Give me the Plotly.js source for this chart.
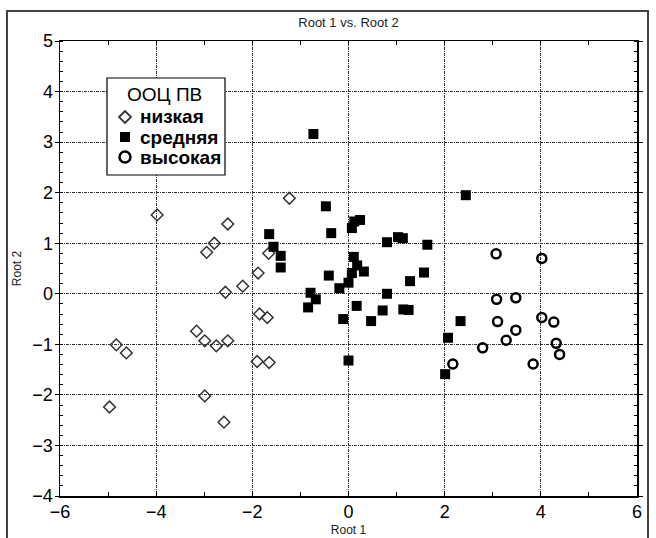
<!DOCTYPE html>
<html>
<head>
<meta charset="utf-8">
<script src="https://cdn.plot.ly/plotly-3.0.1.min.js"></script>
<style>html,body{margin:0;padding:0;background:#fff;}#chart{width:656px;height:538px;}</style>
</head>
<body>
<div id="chart"></div>
<script>
// Data
const seriesNames = ["низкая", "средняя", "высокая"];
const legendTitle = "ООЦ ПВ";
const chartTitle = "Root 1 vs. Root 2";
const xTitle = "Root 1";
const yTitle = "Root 2";

const lowX = [-1.23, -3.98, -2.51, -2.79, -2.95, -1.66, -1.88, -2.20, -2.56, -1.85, -1.69, -3.16, -2.99, -2.75, -2.51, -4.83, -4.62, -1.90, -1.65, -2.99, -4.97, -2.59];
const lowY = [1.89, 1.56, 1.38, 1.00, 0.82, 0.80, 0.41, 0.15, 0.03, -0.40, -0.47, -0.74, -0.93, -1.03, -0.93, -1.01, -1.17, -1.34, -1.36, -2.02, -2.24, -2.54];

const midX = [-0.73, 2.44, -0.47, 0.12, 0.24, 0.07, -1.65, -0.36, -1.56, -1.41, -1.41, 0.80, 1.03, 1.13, 1.64, 0.11, 0.18, 0.32, 0.07, 0.00, -0.41, -0.19, 1.57, 1.28, -0.79, -0.68, -0.84, 0.80, 0.17, 0.71, 1.14, 1.25, -0.11, 0.47, 2.33, 2.07, 0.00, 2.01];
const midY = [3.16, 1.95, 1.73, 1.43, 1.46, 1.30, 1.18, 1.20, 0.93, 0.75, 0.52, 1.02, 1.12, 1.10, 0.97, 0.73, 0.56, 0.44, 0.41, 0.22, 0.36, 0.11, 0.42, 0.25, 0.02, -0.11, -0.27, 0.00, -0.24, -0.33, -0.31, -0.32, -0.50, -0.54, -0.54, -0.87, -1.32, -1.59];

const highX = [3.07, 4.02, 3.08, 3.48, 3.10, 4.02, 4.27, 3.48, 3.28, 4.32, 4.39, 2.79, 3.84, 2.17];
const highY = [0.79, 0.70, -0.11, -0.08, -0.55, -0.47, -0.56, -0.72, -0.92, -0.98, -1.20, -1.07, -1.39, -1.39];

const xTicks = [-6, -4, -2, 0, 2, 4, 6];
const yTicks = [-4, -3, -2, -1, 0, 1, 2, 3, 4, 5];

const font = "Liberation Sans, Arial, sans-serif";

// layout geometry (pixels) -> paper coordinates
const W = 656, H = 538, ML = 60, MR = 19, MT = 41, MB = 42;
const PW = W - ML - MR, PH = H - MT - MB;
const px = v => (v - ML) / PW;
const py = v => 1 - (v - MT) / PH;

const traces = [
  {x: lowX, y: lowY, name: seriesNames[0], type: "scatter", mode: "markers", showlegend: false,
   marker: {symbol: "diamond-open", size: 9, color: "#333", line: {width: 1.5, color: "#333"}}},
  {x: midX, y: midY, name: seriesNames[1], type: "scatter", mode: "markers", showlegend: false,
   marker: {symbol: "square", size: 10, color: "#000", line: {width: 0}}},
  {x: highX, y: highY, name: seriesNames[2], type: "scatter", mode: "markers", showlegend: false,
   marker: {symbol: "circle-open", size: 9, color: "#000", line: {width: 2.5, color: "#000"}}}
];

const axisCommon = {
  showline: true, linecolor: "#000", linewidth: 1.5, mirror: "ticks",
  tickwidth: 1, tickcolor: "#000",
  showgrid: true, gridcolor: "#333", gridwidth: 1, griddash: "3px,1px,1px,1px",
  zeroline: false,
  tickfont: {family: font, size: 18, color: "#000"}
};
const fmt = v => v < 0 ? "\u2212" + Math.abs(v) : String(v);

// Legend drawn from the series names
const legX = 107, legY = 78, legR = 225, legB = 175;
const itemY = [117, 137, 157];
const markX = 125, textX = 138;

const shapes = [
  {type: "rect", xref: "paper", yref: "paper", x0: px(7), x1: px(648), y0: py(541), y1: py(11),
   line: {color: "#444", width: 2}, fillcolor: "rgba(0,0,0,0)", layer: "below"},
  {type: "rect", xref: "paper", yref: "paper", x0: px(legX), x1: px(legR), y0: py(legB), y1: py(legY),
   line: {color: "#000", width: 1.2}, fillcolor: "#fff", layer: "above"},
  {type: "path", xref: "paper", yref: "paper",
   path: `M ${px(markX - 6)},${py(itemY[0])} L ${px(markX)},${py(itemY[0] - 6)} L ${px(markX + 6)},${py(itemY[0])} L ${px(markX)},${py(itemY[0] + 6)} Z`,
   line: {color: "#333", width: 1.8}, fillcolor: "#fff", layer: "above"},
  {type: "rect", xref: "paper", yref: "paper", x0: px(markX - 5), x1: px(markX + 5), y0: py(itemY[1] + 5), y1: py(itemY[1] - 5),
   line: {color: "#000", width: 0}, fillcolor: "#000", layer: "above"},
  {type: "circle", xref: "paper", yref: "paper", x0: px(markX - 5.5), x1: px(markX + 5.5), y0: py(itemY[2] + 5.5), y1: py(itemY[2] - 5.5),
   line: {color: "#000", width: 2.5}, fillcolor: "#fff", layer: "above"}
];

const annotations = [
  {text: legendTitle, xref: "paper", yref: "paper", x: px((legX + legR) / 2 - 2), y: py(94), xanchor: "center", yanchor: "middle",
   showarrow: false, font: {family: font, size: 19, color: "#000"}}
].concat(seriesNames.map((n, i) => ({
  text: n, xref: "paper", yref: "paper", x: px(textX), y: py(itemY[i]), xanchor: "left", yanchor: "middle",
  showarrow: false, font: {family: font, size: 19, color: "#000", weight: "bold"}
})));

const layout = {
  width: W, height: H,
  margin: {l: ML, r: MR, t: MT, b: MB},
  paper_bgcolor: "#fff", plot_bgcolor: "#fff",
  showlegend: false,
  title: {text: chartTitle, font: {family: font, size: 13, color: "#222"},
          x: 0.5, xref: "paper", xanchor: "center", y: 1 - 22 / H, yref: "container", yanchor: "middle"},
  xaxis: Object.assign({}, axisCommon, {
    range: [-6, 6], tickvals: xTicks, ticktext: xTicks.map(fmt),
    ticks: "inside", ticklen: 5, ticklabelstandoff: -1,
    minor: {dtick: 1, tick0: 0, ticks: "inside", ticklen: 4, tickcolor: "#000", showgrid: false},
    title: {text: xTitle, font: {family: font, size: 12, color: "#222"}, standoff: 4}
  }),
  yaxis: Object.assign({}, axisCommon, {
    range: [-4, 5], tickvals: yTicks, ticktext: yTicks.map(fmt),
    ticks: "outside", ticklen: 4, ticklabelstandoff: -2,
    minor: {dtick: 0.2, tick0: 0, ticks: "inside", ticklen: 3, tickcolor: "#000", showgrid: false},
    title: {text: yTitle, font: {family: font, size: 12, color: "#222"}, standoff: 8}
  }),
  shapes: shapes,
  annotations: annotations
};

Plotly.newPlot("chart", traces, layout, {displayModeBar: false, staticPlot: true});
</script>
</body>
</html>
